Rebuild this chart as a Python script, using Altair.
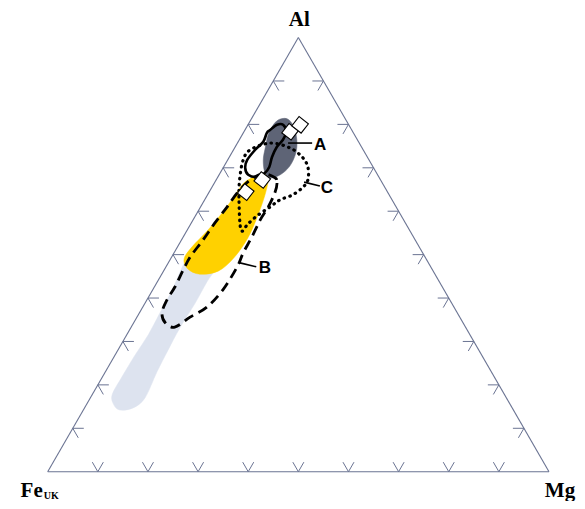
import math
import altair as alt
import pandas as pd

H = math.sqrt(3) / 2

# ---- compositions in % : Al and Mg (Fe = 100 - Al - Mg) ----
grey_al = [51.1, 48.3, 41.9, 36.6, 31.5, 26.9, 21.8, 17.7, 15.4, 14.2, 14.7, 17.0, 23.0, 28.0, 33.1, 38.9, 43.7, 46.5, 49.9]
grey_mg = [3.8, 3.2, 3.9, 4.1, 4.3, 4.0, 3.9, 4.0, 5.5, 7.3, 9.7, 10.9, 10.3, 10.0, 9.8, 10.0, 9.9, 10.1, 9.4]

yellow_al = [66.3, 67.7, 68.6, 67.7, 64.4, 59.1, 53.8, 49.2, 46.2, 45.5, 46.7, 49.0, 51.8, 55.5, 59.6, 63.3]
yellow_mg = [5.8, 6.9, 8.5, 10.1, 11.3, 12.4, 13.0, 12.5, 10.9, 7.6, 4.6, 2.7, 2.9, 4.1, 5.0, 5.5]

dark_al = [80.8, 81.3, 79.4, 76.4, 73.4, 70.4, 68.4, 67.7, 69.0, 71.8, 74.6, 78.0]
dark_mg = [5.3, 7.1, 9.4, 11.5, 12.8, 13.1, 12.2, 10.5, 8.8, 7.1, 6.1, 5.1]

a_al = [78.7, 79.9, 79.9, 78.3, 76.4, 74.8, 72.5, 70.2, 68.8, 67.9, 68.4, 70.0, 71.8, 74.1, 76.0, 78.0]
a_mg = [5.0, 5.8, 7.0, 8.4, 8.7, 8.3, 8.5, 9.1, 8.9, 7.8, 5.8, 4.4, 3.9, 4.3, 5.0, 4.7]

c_al = [55.7, 63.3, 67.9, 71.8, 74.1, 75.7, 74.6, 72.5, 70.2, 67.2, 65.4, 63.7, 62.6, 61.0, 59.1, 57.1]
c_mg = [10.7, 6.5, 4.4, 3.1, 3.3, 6.5, 11.0, 14.5, 16.8, 18.3, 18.1, 16.9, 15.0, 13.9, 12.4, 11.4]

b_al = [67.7, 66.5, 64.2, 61.0, 58.0, 54.1, 50.4, 47.2, 41.9, 37.9, 35.6, 33.3, 34.3, 36.6, 39.6,
        42.6, 46.5, 49.5, 53.4, 57.3, 61.0, 64.2, 67.2, 68.6]
b_mg = [11.5, 12.5, 13.2, 13.5, 13.4, 13.7, 13.8, 14.2, 14.0, 12.8, 10.6, 8.7, 6.3, 4.5, 4.0,
        4.1, 3.8, 3.7, 4.3, 4.7, 5.3, 5.7, 6.8, 8.7]

sample_al = [78.3, 79.9, 67.2, 64.4]
sample_mg = [9.2, 10.4, 9.2, 7.3]

label_text = ["A", "B", "C"]
label_al = [75.3, 46.9, 65.4]
label_mg = [16.7, 19.9, 23.0]
leader_al1 = [75.7, 48.1, 66.7]
leader_mg1 = [10.1, 14.3, 17.8]
leader_al2 = [75.7, 47.2, 65.8]
leader_mg2 = [14.9, 18.0, 21.4]

tick_values = [10, 20, 30, 40, 50, 60, 70, 80, 90]


def tx(al, mg):
    return (mg + al / 2) / 100


def ty(al, mg):
    return al / 100 * H


def poly(al, mg):
    return pd.DataFrame({
        "i": list(range(len(al))),
        "Al": al, "Mg": mg,
        "Fe": [100 - a - m for a, m in zip(al, mg)],
        "x": [tx(a, m) for a, m in zip(al, mg)],
        "y": [ty(a, m) for a, m in zip(al, mg)],
    })


XS = alt.Scale(domain=[-0.07919, 1.05586], nice=False, zero=False)
YS = alt.Scale(domain=[-0.05845, 0.92499], nice=False, zero=False)


def enc_xy(ch):
    return ch.encode(x=alt.X("x:Q", scale=XS, axis=None), y=alt.Y("y:Q", scale=YS, axis=None))


def filled(al, mg, color):
    return enc_xy(alt.Chart(poly(al, mg)).mark_line(
        interpolate="cardinal-closed", fill=color, stroke=color, strokeWidth=0.5
    )).encode(order=alt.Order("i:Q"))


def outline(al, mg, **kw):
    return enc_xy(alt.Chart(poly(al, mg)).mark_line(
        interpolate="cardinal-closed", color="black", **kw
    )).encode(order=alt.Order("i:Q"))


grey = filled(grey_al, grey_mg, "#dde3ef")
yellow = filled(yellow_al, yellow_mg, "#ffd100")
dark = filled(dark_al, dark_mg, "#5e6476")

line_a = outline(a_al, a_mg, strokeWidth=2.6)
line_c = outline(c_al, c_mg, strokeWidth=3.2, strokeDash=[0.5, 5.5], strokeCap="round")
line_b = outline(b_al, b_mg, strokeWidth=2.8, strokeDash=[10, 6])

# ---- triangle frame and ticks ----
EDGE = "#6a7392"
corners = [(0.0, 0.0), (1.0, 0.0), (0.5, H)]
edges = pd.DataFrame({
    "x": [corners[k][0] for k in range(3)],
    "y": [corners[k][1] for k in range(3)],
    "x2": [corners[(k + 1) % 3][0] for k in range(3)],
    "y2": [corners[(k + 1) % 3][1] for k in range(3)],
})
L = 0.022
rows = []
for t in tick_values:
    f = t / 100
    bx, by = f, 0.0
    rows.append((bx, by, bx - 0.5 * L, by + H * L))
    rows.append((bx, by, bx + 0.5 * L, by + H * L))
    lx, ly = f / 2, f * H
    rows.append((lx, ly, lx + L, ly))
    rows.append((lx, ly, lx + 0.5 * L, ly - H * L))
    rx, ry = 1 - f / 2, f * H
    rows.append((rx, ry, rx - L, ry))
    rows.append((rx, ry, rx - 0.5 * L, ry - H * L))
ticks = pd.DataFrame(rows, columns=["x", "y", "x2", "y2"])


def rules(df, color, width):
    return alt.Chart(df).mark_rule(color=color, strokeWidth=width).encode(
        x=alt.X("x:Q", scale=XS, axis=None), y=alt.Y("y:Q", scale=YS, axis=None),
        x2="x2:Q", y2="y2:Q")


frame = rules(edges, EDGE, 1.1)
tick_layer = rules(ticks, EDGE, 1.0)

leaders = pd.DataFrame({
    "x": [tx(a, m) for a, m in zip(leader_al1, leader_mg1)],
    "y": [ty(a, m) for a, m in zip(leader_al1, leader_mg1)],
    "x2": [tx(a, m) for a, m in zip(leader_al2, leader_mg2)],
    "y2": [ty(a, m) for a, m in zip(leader_al2, leader_mg2)],
})
leader_layer = rules(leaders, "black", 1.6)

samples = enc_xy(alt.Chart(poly(sample_al, sample_mg)).mark_point(
    shape="square", filled=True, fill="white", stroke="black", strokeWidth=1.1,
    size=140, angle=38, opacity=1))

labels = poly(label_al, label_mg)
labels["t"] = label_text
label_layer = enc_xy(alt.Chart(labels).mark_text(
    font="Liberation Sans", fontWeight="bold", fontSize=17, color="black",
    align="center", baseline="middle")).encode(text="t:N")

corner_df = pd.DataFrame({
    "x": [0.5, 0.0, 1.0], "y": [H, 0.0, 0.0],
    "t": ["Al", "Fe", "Mg"], "dx": [1, -16, 11], "dy": [-18, 19, 19],
})
corner_layers = []
for k in range(3):
    corner_layers.append(enc_xy(alt.Chart(corner_df.iloc[[k]]).mark_text(
        font="Liberation Serif", fontWeight="bold", fontSize=21, color="black",
        align="center", baseline="middle", dx=int(corner_df.dx[k]), dy=int(corner_df.dy[k])
    )).encode(text="t:N"))
sub_df = pd.DataFrame({"x": [0.0], "y": [0.0], "t": ["UK"]})
sub_layer = enc_xy(alt.Chart(sub_df).mark_text(
    font="Liberation Serif", fontWeight="bold", fontSize=10, color="black",
    align="left", baseline="middle", dx=-4, dy=24)).encode(text="t:N")

chart = alt.layer(
    grey, yellow, dark, frame, tick_layer, line_a, line_c, line_b,
    leader_layer, samples, label_layer, *corner_layers, sub_layer
).properties(
    width=569, height=493, padding=0,
    autosize=alt.AutoSizeParams(type="none")
).configure_view(stroke=None)

chart.save("out.html", embed_options={"renderer": "svg", "actions": False})
